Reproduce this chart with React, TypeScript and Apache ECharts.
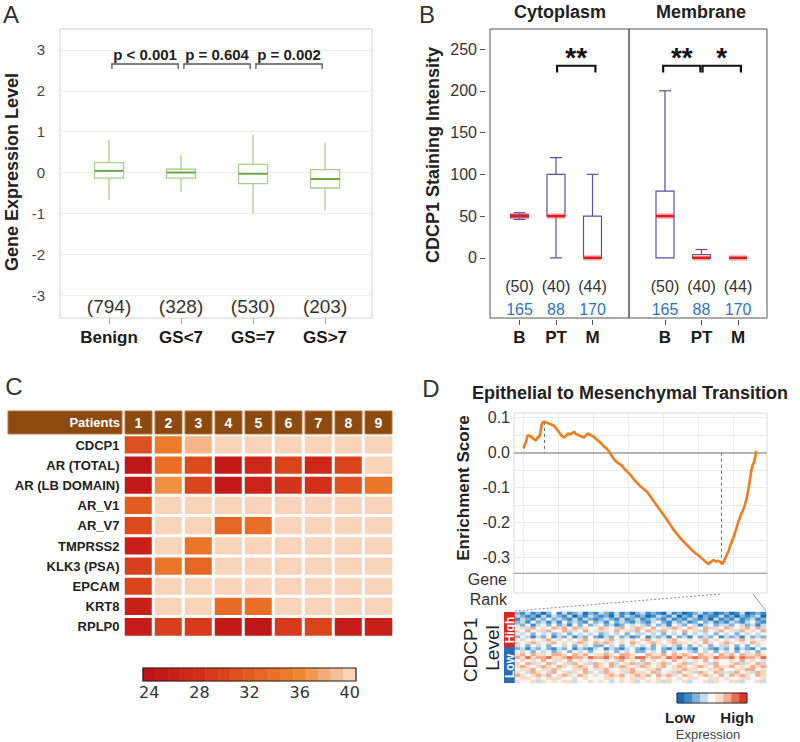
import React, { useEffect, useRef } from 'react';
import * as echarts from 'echarts';

const FONT = '"Liberation Sans", Arial, Helvetica, sans-serif';

// ---------------- Panel A ----------------
const aCategories = ['Benign', 'GS<7', 'GS=7', 'GS>7'];
const aCounts = ['(794)', '(328)', '(530)', '(203)'];
const aLow = [-0.67, -0.47, -1.0, -0.93];
const aQ1 = [-0.14, -0.14, -0.27, -0.38];
const aMedian = [0.04, 0.0, -0.03, -0.16];
const aQ3 = [0.24, 0.08, 0.2, 0.07];
const aHigh = [0.8, 0.42, 0.92, 0.73];
const aYTicks = [-3, -2, -1, 0, 1, 2, 3];
const aXTicks = [0, 1, 2, 3];
const aPLabels = ['p < 0.001', 'p = 0.604', 'p = 0.002'];
const aPFrom = [0, 1, 2];
const aPTo = [1, 2, 3];

// ---------------- Panel B ----------------
const bCategories = ['B', 'PT', 'M'];
const bXTicks = [0, 1, 2];
const bCounts = ['(50)', '(40)', '(44)'];
const bTotals = ['165', '88', '170'];
const bYTicks = [0, 50, 100, 150, 200, 250];
// [min, q1, median, q3, max]
const bCytoplasm = [
  [46, 48, 50, 52, 54],
  [0, 50, 50, 100, 120],
  [0, 0, 0, 50, 100],
];
const bMembrane = [
  [0, 0, 50, 80, 200],
  [0, 0, 0, 4, 10],
  [0, 0, 0, 0, 0],
];
const bCytoSigFrom = [1.03];
const bCytoSigTo = [2.08];
const bCytoSigLabel = ['**'];
const bMemSigFrom = [-0.05, 1.03];
const bMemSigTo = [0.97, 2.08];
const bMemSigLabel = ['**', '*'];

// ---------------- Panel C ----------------
const cPatients = ['1', '2', '3', '4', '5', '6', '7', '8', '9'];
const cGenes = ['CDCP1', 'AR (TOTAL)', 'AR (LB DOMAIN)', 'AR_V1', 'AR_V7', 'TMPRSS2', 'KLK3 (PSA)', 'EPCAM', 'KRT8', 'RPLP0'];
const cCt = [
  [31, 35, 38.5, 40, 40, 40, 40, 40, 40],
  [24.5, 34, 30.5, 25, 27, 30, 27, 30, 40],
  [25, 36.5, 30, 25, 26.5, 28.5, 28, 31, 34.5],
  [32, 40, 40, 40, 40, 40, 40, 40, 40],
  [30.5, 40, 40, 33, 34, 40, 40, 40, 40],
  [26, 40, 34.5, 40, 40, 40, 40, 40, 40],
  [29.5, 34.5, 33, 40, 40, 40, 40, 40, 40],
  [30, 40, 40, 40, 40, 40, 40, 40, 40],
  [26, 40, 40, 33.5, 34, 40, 40, 40, 40],
  [25.5, 29.5, 29, 25, 24.5, 29, 30, 25.5, 26],
];
const cScaleTicks = [24, 28, 32, 36, 40];
const cScaleSteps = [24, 25, 26, 27, 28, 29, 30, 31, 32, 33, 34, 35, 36, 37, 38, 39, 40];
const cColors = ['#be1318', '#c91f19', '#d22e1a', '#da441d', '#e15c21', '#e96f26', '#ef8630', '#f2ac78', '#f8d4ba'];

// ---------------- Panel D ----------------
const esRank = [0, 107, 179, 274, 369, 512, 655, 798, 893, 988, 1083, 1179, 1274, 1369, 1512, 1655, 1893, 2131, 2321, 2512, 2702, 2893, 3036, 3179, 3321, 3464, 3607, 3750, 3940, 4131, 4321, 4464, 4607, 4798, 4988, 5226, 5464, 5702, 5940, 6131, 6321, 6536, 6774, 7012, 7250, 7607, 7964, 8321, 8798, 9274, 9750, 10226, 10702, 11179, 11655, 12131, 12607, 12964, 13202, 13369, 13560, 13750, 13917, 14083, 14202, 14321, 14512, 14655, 14798, 14988, 15179, 15369, 15560, 15750, 15940, 16083, 16179, 16274, 16369, 16464, 16560, 16607];
const esScore = [0.012, 0.025, 0.03, 0.048, 0.05, 0.046, 0.042, 0.037, 0.035, 0.042, 0.046, 0.05, 0.075, 0.087, 0.088, 0.086, 0.082, 0.078, 0.07, 0.06, 0.05, 0.043, 0.048, 0.055, 0.052, 0.056, 0.06, 0.053, 0.05, 0.047, 0.043, 0.05, 0.055, 0.05, 0.046, 0.038, 0.03, 0.02, 0.012, 0.002, -0.01, -0.022, -0.03, -0.037, -0.048, -0.062, -0.08, -0.095, -0.111, -0.137, -0.164, -0.19, -0.219, -0.243, -0.263, -0.282, -0.297, -0.31, -0.318, -0.312, -0.307, -0.311, -0.309, -0.313, -0.318, -0.31, -0.292, -0.28, -0.262, -0.243, -0.22, -0.194, -0.174, -0.158, -0.13, -0.1, -0.075, -0.05, -0.035, -0.028, -0.01, 0.005];
const dXGrid = [0, 2500, 5000, 7500, 10000, 12500, 15000];
const dYGrid = [-0.3, -0.25, -0.2, -0.15, -0.1, -0.05, 0, 0.05, 0.1];
const dYLabels = [-0.3, -0.2, -0.1, 0, 0.1];
const dPeakRank = 1488;
const dPeakScore = 0.088;
const dTroughRank = 14155;
const dTroughScore = -0.314;
// expression levels 0 (low, blue) .. 8 (high, red); rows 0-11 CDCP1 high, 12-23 CDCP1 low
const dRows = [
  '21312024 13123021 32131202 31210312 01231201 20130121',
  '32120313 21302132 12031321 20132130 21302113 12021230',
  '13213242 32131321 23213123 12321312 13212031 21312312',
  '23142313 14232142 31423213 21342132 31242312 13213421',
  '32413424 23142423 42312434 32423143 24313423 32432313',
  '45364546 56463544 65436456 54645365 46546354 65456463',
  '54645364 46354645 35464536 46536454 64536456 45364546',
  '43424342 34243434 23434243 34342434 24343424 34243434',
  '24313241 32413242 13242312 41323142 31423241 32314232',
  '45454564 54545645 45645454 56454564 45456454 54564545',
  '54565456 45456546 56545465 45654565 54546545 65454654',
  '34243424 43424342 24342434 34243432 42434243 34242434',
  '23132421 32413213 41321342 13242131 32143213 24132142',
  '43424342 34243424 43424342 24342434 43243424 34243424',
  '56465546 65465645 56546654 46556465 65465546 56465565',
  '65756675 56766576 67567657 75665767 56766576 67576657',
  '45454645 54645454 45456454 64545464 54546454 45464545',
  '54635463 45364536 54634563 36456345 63545364 45635463',
  '56545654 65456546 54656545 65456456 54565465 56454656',
  '45564556 54455645 56445564 45564455 65544556 44556645',
  '54365436 45354634 36545365 54634536 45365463 53645365',
  '65456564 56546545 45656456 56465654 65456546 46565465',
  '45545455 54454544 45545455 54454545 45544554 54455445',
  '54453545 45534454 54345453 45453544 53445354 45534453',
];
const dScaleSteps = [0, 1, 2, 3, 4, 5, 6, 7, 8];
const dColors = ['#1c6cb1', '#3d8ac6', '#7fb3dc', '#c5dcef', '#f7f7f7', '#fadbc6', '#f5ad8e', '#ea6d51', '#d6352a'];

// ---------------- helpers ----------------
function txtStyle(text: string, font: string, fill: string, align: string, va: string) {
  return { text, font, fill, align, verticalAlign: va, textAlign: align, textVerticalAlign: va };
}
function gtext(text: string, x: number, y: number, font: string, opts: any = {}) {
  return {
    type: 'text', x, y, rotation: opts.rotation || 0, silent: true, z: 20,
    style: txtStyle(text, font, opts.fill || '#222', opts.align || 'center', opts.va || 'middle'),
  };
}
const hiddenAxis = (gridIndex: number, extra: any = {}) => ({ gridIndex, show: false, axisLine: { onZero: false }, ...extra });
const noLine = { show: false, onZero: false };

function buildOption() {
  // ---- A renderers
  const renderBoxA = (params: any, api: any) => {
    const x = api.value(0);
    const cx = api.coord([x, 0])[0];
    const y = (v: number) => api.coord([x, v])[1];
    const lo = api.value(1), q1 = api.value(2), md = api.value(3), q3 = api.value(4), hi = api.value(5);
    const hw = 14.5;
    const stroke = '#a9cf8a';
    return {
      type: 'group',
      children: [
        { type: 'line', shape: { x1: cx, y1: y(hi), x2: cx, y2: y(q3) }, style: { stroke, lineWidth: 1.3 } },
        { type: 'line', shape: { x1: cx, y1: y(q1), x2: cx, y2: y(lo) }, style: { stroke, lineWidth: 1.3 } },
        { type: 'rect', shape: { x: cx - hw, y: y(q3), width: hw * 2, height: y(q1) - y(q3) }, style: { fill: '#fff', stroke, lineWidth: 1.3 } },
        { type: 'line', shape: { x1: cx - hw, y1: y(md), x2: cx + hw, y2: y(md) }, style: { stroke: '#6aa444', lineWidth: 2 } },
      ],
    };
  };
  const renderBracketA = (params: any, api: any) => {
    const f = api.value(0), t = api.value(1);
    const a = api.coord([f + 0.04, 2.535]);
    const b = api.coord([f + 0.04, 2.657]);
    const c = api.coord([t - 0.04, 2.657]);
    const d = api.coord([t - 0.04, 2.535]);
    const m = api.coord([(f + t) / 2, 2.88]);
    return {
      type: 'group',
      children: [
        { type: 'polyline', shape: { points: [a, b, c, d] }, style: { stroke: '#555', lineWidth: 1.3, fill: 'none' } },
        { type: 'text', x: m[0], y: m[1], style: txtStyle(aPLabels[params.dataIndex], `bold 15px ${FONT}`, '#222', 'center', 'middle') },
      ],
    };
  };
  const renderCountA = (params: any, api: any) => {
    const p = api.coord([api.value(0), api.value(1)]);
    return { type: 'text', x: p[0], y: p[1], style: txtStyle(aCounts[params.dataIndex], `19px ${FONT}`, '#333', 'center', 'middle') };
  };

  // ---- B renderers
  const renderBoxB = (params: any, api: any) => {
    const x = api.value(0);
    const cx = api.coord([x, 0])[0];
    const y = (v: number) => api.coord([x, v])[1];
    const lo = api.value(1), q1 = api.value(2), md = api.value(3), q3 = api.value(4), hi = api.value(5);
    const hw = 9, cw = 6;
    const stroke = '#5b4ea3';
    const ch: any[] = [];
    if (hi > q3) {
      ch.push({ type: 'line', shape: { x1: cx, y1: y(hi), x2: cx, y2: y(q3) }, style: { stroke, lineWidth: 1.2 } });
      ch.push({ type: 'line', shape: { x1: cx - cw, y1: y(hi), x2: cx + cw, y2: y(hi) }, style: { stroke, lineWidth: 1.2 } });
    }
    if (lo < q1) {
      ch.push({ type: 'line', shape: { x1: cx, y1: y(q1), x2: cx, y2: y(lo) }, style: { stroke, lineWidth: 1.2 } });
      ch.push({ type: 'line', shape: { x1: cx - cw, y1: y(lo), x2: cx + cw, y2: y(lo) }, style: { stroke, lineWidth: 1.2 } });
    }
    ch.push({ type: 'rect', shape: { x: cx - hw, y: y(q3), width: hw * 2, height: y(q1) - y(q3) }, style: { fill: 'none', stroke, lineWidth: 1.2 } });
    ch.push({ type: 'line', shape: { x1: cx - hw, y1: y(md), x2: cx + hw, y2: y(md) }, style: { stroke: 'rgba(240,120,120,0.45)', lineWidth: 6 } });
    ch.push({ type: 'line', shape: { x1: cx - hw, y1: y(md), x2: cx + hw, y2: y(md) }, style: { stroke: '#e41a1c', lineWidth: 2.6 } });
    return { type: 'group', children: ch };
  };
  const makeSigRenderer = (labels: string[]) => (params: any, api: any) => {
    const f = api.value(0), t = api.value(1);
    const a = api.coord([f, 222]);
    const b = api.coord([f, 230]);
    const c = api.coord([t, 230]);
    const d = api.coord([t, 222]);
    const m = api.coord([(f + t) / 2, 230]);
    return {
      type: 'group',
      children: [
        { type: 'polyline', shape: { points: [a, b, c, d] }, style: { stroke: '#111', lineWidth: 2.2, fill: 'none' } },
        { type: 'text', x: m[0], y: m[1] - 8, style: txtStyle(labels[params.dataIndex], `bold 28px ${FONT}`, '#111', 'center', 'middle') },
      ],
    };
  };
  const renderCountB = (params: any, api: any) => {
    const i = api.value(0);
    const p1 = api.coord([i, -34.7]);
    const p2 = api.coord([i, -62.2]);
    return {
      type: 'group',
      children: [
        { type: 'text', x: p1[0], y: p1[1], style: txtStyle(bCounts[params.dataIndex], `16px ${FONT}`, '#333', 'center', 'middle') },
        { type: 'text', x: p2[0], y: p2[1], style: txtStyle(bTotals[params.dataIndex], `16px ${FONT}`, '#2f73c4', 'center', 'middle') },
      ],
    };
  };

  // ---- C renderers
  const renderHeader = (params: any, api: any) => {
    const i = api.value(0);
    const top = api.coord([i, 1]);
    const bot = api.coord([i, 0]);
    const w = api.size([1, 0])[0];
    return {
      type: 'group',
      children: [
        { type: 'rect', shape: { x: top[0] - w / 2 + 1.5, y: top[1], width: w - 3, height: bot[1] - top[1] }, style: { fill: '#8c4a10', stroke: '#b7763f', lineWidth: 1 } },
        { type: 'text', x: top[0], y: (top[1] + bot[1]) / 2, style: txtStyle(cPatients[params.dataIndex], `bold 14px ${FONT}`, '#fff', 'center', 'middle') },
      ],
    };
  };
  const renderStep = (params: any, api: any) => {
    const v = api.value(0);
    const p0 = api.coord([v - 0.5, 1]);
    const p1 = api.coord([v + 0.5, 0]);
    const color = api.visual('color');
    return { type: 'rect', shape: { x: p0[0], y: p0[1], width: p1[0] - p0[0], height: p1[1] - p0[1] }, style: { fill: color, stroke: color, lineWidth: 0.5 } };
  };

  const cCells: any[] = [];
  cCt.forEach((row, r) => row.forEach((v, c) => cCells.push([c, r, v])));
  const dCells: any[] = [];
  dRows.forEach((row, r) => row.replace(/ /g, '').split('').forEach((ch, c) => dCells.push([c, r, Number(ch)])));
  const dColNames = dRows[0].replace(/ /g, '').split('').map((_, i) => String(i));
  const dRowNames = dRows.map((_, i) => String(i));

  const grids = [
    { left: 60, top: 29, width: 312, height: 289, show: true, borderColor: '#d0d0d0', borderWidth: 1 }, // 0 A
    { left: 490, top: 29, width: 139, height: 289, show: true, borderColor: '#555', borderWidth: 1 }, // 1 B cyto
    { left: 629, top: 29, width: 138, height: 289, show: true, borderColor: '#555', borderWidth: 1 }, // 2 B mem
    { left: 123.5, top: 435, width: 270, height: 202 }, // 3 C heat
    { left: 123.5, top: 411, width: 270, height: 23 }, // 4 C header
    { left: 143, top: 668, width: 213, height: 13 }, // 5 C colorbar
    { left: 514, top: 413, width: 253, height: 160, show: true, borderColor: '#d9d9d9', borderWidth: 1 }, // 6 D ES
    { left: 514, top: 573, width: 253, height: 20, show: true, borderColor: '#d9d9d9', borderWidth: 1 }, // 7 D gene rank
    { left: 515, top: 612, width: 251, height: 71 }, // 8 D heat
    { left: 677, top: 693, width: 70, height: 10 }, // 9 D colorbar
  ].map((g) => ({ containLabel: false, outerBoundsMode: 'none', ...g }));

  const xAxis = [
    {
      gridIndex: 0, type: 'value', min: -0.681, max: 3.652,
      axisLine: noLine,
      axisTick: { show: true, customValues: aXTicks, length: 6, lineStyle: { color: '#aaa' } },
      axisLabel: { customValues: aXTicks, formatter: (v: number) => aCategories[v], fontSize: 17, fontWeight: 'bold', color: '#1a1a1a', margin: 11, fontFamily: FONT },
      splitLine: { show: false },
    },
    {
      gridIndex: 1, type: 'value', min: -0.808, max: 3.0, offset: 2,
      axisLine: noLine,
      axisTick: { show: true, customValues: bXTicks, length: 5, lineStyle: { color: '#555' } },
      axisLabel: { customValues: bXTicks, formatter: (v: number) => bCategories[v], fontSize: 17, fontWeight: 'bold', color: '#1a1a1a', margin: 9, fontFamily: FONT },
      splitLine: { show: false },
    },
    {
      gridIndex: 2, type: 'value', min: -0.986, max: 2.795, offset: 2,
      axisLine: noLine,
      axisTick: { show: true, customValues: bXTicks, length: 5, lineStyle: { color: '#555' } },
      axisLabel: { customValues: bXTicks, formatter: (v: number) => bCategories[v], fontSize: 17, fontWeight: 'bold', color: '#1a1a1a', margin: 9, fontFamily: FONT },
      splitLine: { show: false },
    },
    hiddenAxis(3, { type: 'category', data: cPatients }),
    hiddenAxis(4, { type: 'category', data: cPatients }),
    {
      gridIndex: 5, type: 'value', min: 23.5, max: 40.5,
      axisLine: noLine, axisTick: { show: false },
      axisLabel: { customValues: cScaleTicks, fontSize: 16, color: '#333', margin: 3, fontFamily: '"DejaVu Sans", sans-serif' },
      splitLine: { show: false },
    },
    {
      gridIndex: 6, type: 'value', min: -679, max: 17392,
      axisLine: noLine, axisTick: { show: false, customValues: dXGrid }, axisLabel: { show: false },
      splitLine: { show: true, lineStyle: { color: '#ebebeb', width: 1 } },
    },
    {
      gridIndex: 7, type: 'value', min: -679, max: 17392, position: 'top',
      axisLine: { show: true, onZero: false, lineStyle: { color: '#a8a8a8', width: 1.2 } },
      axisTick: { show: false, customValues: dXGrid }, axisLabel: { show: false },
      splitLine: { show: true, lineStyle: { color: '#ebebeb', width: 1 } },
    },
    hiddenAxis(8, { type: 'category', data: dColNames }),
    hiddenAxis(9, { type: 'value', min: -0.5, max: 8.5 }),
  ];

  const yAxis = [
    {
      gridIndex: 0, type: 'value', min: -3.563, max: 3.514,
      axisLine: noLine, axisTick: { show: false, customValues: aYTicks },
      axisLabel: { customValues: aYTicks, fontSize: 15, color: '#444', margin: 15, fontFamily: FONT },
      splitLine: { show: true, lineStyle: { color: '#eeeeee' } },
    },
    {
      gridIndex: 1, type: 'value', min: -72, max: 274, offset: 5,
      axisLine: noLine,
      axisTick: { show: true, customValues: bYTicks, length: 5, lineStyle: { color: '#555' } },
      axisLabel: { customValues: bYTicks, fontSize: 16, color: '#333', margin: 8, fontFamily: FONT },
      splitLine: { show: false },
    },
    hiddenAxis(2, { type: 'value', min: -72, max: 274 }),
    {
      gridIndex: 3, type: 'category', data: cGenes, inverse: true,
      axisLine: noLine, axisTick: { show: false },
      axisLabel: { interval: 0, fontSize: 13, fontWeight: 'bold', color: '#222', margin: 4, fontFamily: FONT },
      splitLine: { show: false },
    },
    hiddenAxis(4, { type: 'value', min: 0, max: 1 }),
    hiddenAxis(5, { type: 'value', min: 0, max: 1 }),
    {
      gridIndex: 6, type: 'value', min: -0.3437, max: 0.1134,
      axisLine: noLine, axisTick: { show: false, customValues: dYGrid },
      axisLabel: { customValues: dYLabels, formatter: (v: number) => v.toFixed(1), fontSize: 16, color: '#333', margin: 4, fontFamily: FONT },
      splitLine: { show: true, lineStyle: { color: '#ebebeb', width: 1 } },
    },
    hiddenAxis(7, { type: 'value', min: 0, max: 1 }),
    hiddenAxis(8, { type: 'category', data: dRowNames, inverse: true }),
    hiddenAxis(9, { type: 'value', min: 0, max: 1 }),
  ];

  const series: any[] = [
    { type: 'custom', xAxisIndex: 0, yAxisIndex: 0, renderItem: renderBoxA, data: aCategories.map((_, i) => [i, aLow[i], aQ1[i], aMedian[i], aQ3[i], aHigh[i]]), encode: { x: 0, y: [1, 2, 3, 4, 5] }, silent: true },
    { type: 'custom', xAxisIndex: 0, yAxisIndex: 0, renderItem: renderBracketA, data: aPLabels.map((_, i) => [aPFrom[i], aPTo[i], 2.657]), encode: { x: [0, 1], y: 2 }, silent: true },
    { type: 'custom', xAxisIndex: 0, yAxisIndex: 0, renderItem: renderCountA, data: aCounts.map((_, i) => [i, -3.27]), encode: { x: 0, y: 1 }, silent: true },
    { type: 'custom', xAxisIndex: 1, yAxisIndex: 1, renderItem: renderBoxB, data: bCytoplasm.map((b, i) => [i, ...b]), encode: { x: 0, y: [1, 2, 3, 4, 5] }, silent: true },
    { type: 'custom', xAxisIndex: 2, yAxisIndex: 2, renderItem: renderBoxB, data: bMembrane.map((b, i) => [i, ...b]), encode: { x: 0, y: [1, 2, 3, 4, 5] }, silent: true },
    { type: 'custom', xAxisIndex: 1, yAxisIndex: 1, renderItem: makeSigRenderer(bCytoSigLabel), data: bCytoSigFrom.map((f, i) => [f, bCytoSigTo[i], 230]), encode: { x: [0, 1], y: 2 }, silent: true },
    { type: 'custom', xAxisIndex: 2, yAxisIndex: 2, renderItem: makeSigRenderer(bMemSigLabel), data: bMemSigFrom.map((f, i) => [f, bMemSigTo[i], 230]), encode: { x: [0, 1], y: 2 }, silent: true },
    { type: 'custom', xAxisIndex: 1, yAxisIndex: 1, renderItem: renderCountB, data: bCounts.map((_, i) => [i, -34.7]), encode: { x: 0, y: 1 }, silent: true },
    { type: 'custom', xAxisIndex: 2, yAxisIndex: 2, renderItem: renderCountB, data: bCounts.map((_, i) => [i, -34.7]), encode: { x: 0, y: 1 }, silent: true },
    { type: 'heatmap', xAxisIndex: 3, yAxisIndex: 3, data: cCells, itemStyle: { borderColor: '#fff', borderWidth: 3 }, emphasis: { disabled: true }, silent: true },
    { type: 'custom', xAxisIndex: 4, yAxisIndex: 4, renderItem: renderHeader, data: cPatients.map((_, i) => [i, 0]), encode: { x: 0, y: 1 }, silent: true },
    { type: 'custom', xAxisIndex: 5, yAxisIndex: 5, renderItem: renderStep, data: cScaleSteps.map((v) => [v, 0, v]), encode: { x: 0, y: 1 }, silent: true },
    {
      type: 'line', xAxisIndex: 6, yAxisIndex: 6, data: esRank.map((r, i) => [r, esScore[i]]),
      symbol: 'none', showSymbol: false, lineStyle: { color: '#f27b1c', width: 2.6 }, z: 5, silent: true,
      markLine: {
        silent: true, symbol: ['none', 'none'], label: { show: false }, z: 3,
        data: [
          { yAxis: 0, lineStyle: { color: '#a0a0a0', width: 1.5, type: 'solid' } },
          [
            { coord: [dPeakRank, dPeakScore], lineStyle: { color: '#5b7474', width: 1, type: [3, 3] } },
            { coord: [dPeakRank, 0], lineStyle: { color: '#5b7474', width: 1, type: [3, 3] } },
          ],
          [
            { coord: [dTroughRank, 0], lineStyle: { color: '#5b7474', width: 1, type: [3, 3] } },
            { coord: [dTroughRank, dTroughScore], lineStyle: { color: '#5b7474', width: 1, type: [3, 3] } },
          ],
        ],
      },
    },
    { type: 'heatmap', xAxisIndex: 8, yAxisIndex: 8, data: dCells, emphasis: { disabled: true }, silent: true },
    { type: 'custom', xAxisIndex: 9, yAxisIndex: 9, renderItem: renderStep, data: dScaleSteps.map((v) => [v, 0, v]), encode: { x: 0, y: 1 }, silent: true },
  ];

  const graphic: any[] = [
    gtext('A', 11, 14, `24px ${FONT}`, { fill: '#333' }),
    gtext('B', 427, 14, `24px ${FONT}`, { fill: '#333' }),
    gtext('C', 14, 386, `24px ${FONT}`, { fill: '#333' }),
    gtext('D', 431, 388, `24px ${FONT}`, { fill: '#333' }),
    gtext('Gene Expression Level', 12, 172, `bold 18px ${FONT}`, { rotation: Math.PI / 2 }),
    gtext('CDCP1 Staining Intensity', 433, 155, `bold 18px ${FONT}`, { rotation: Math.PI / 2 }),
    gtext('Cytoplasm', 560, 12, `bold 18px ${FONT}`),
    gtext('Membrane', 701, 12, `bold 18px ${FONT}`),
    { type: 'rect', shape: { x: 8, y: 411, width: 114, height: 23 }, style: { fill: '#8c4a10', stroke: '#b7763f', lineWidth: 1 }, silent: true, z: 10 },
    gtext('Patients', 120, 422.5, `bold 13px ${FONT}`, { fill: '#fff', align: 'right' }),
    { type: 'rect', shape: { x: 143, y: 668, width: 213, height: 13 }, style: { fill: 'none', stroke: '#222', lineWidth: 1.2 }, silent: true, z: 10 },
    gtext('Epithelial to Mesenchymal Transition', 472, 393, `bold 18px ${FONT}`, { align: 'left' }),
    gtext('Enrichment Score', 463, 488, `bold 17px ${FONT}`, { rotation: Math.PI / 2 }),
    gtext('Gene', 507, 579, `16px ${FONT}`, { align: 'right', fill: '#333' }),
    gtext('Rank', 507, 599, `16px ${FONT}`, { align: 'right', fill: '#333' }),
    { type: 'line', shape: { x1: 720, y1: 594, x2: 515, y2: 611 }, style: { stroke: '#888', lineWidth: 1, lineDash: [2, 2] }, silent: true },
    { type: 'line', shape: { x1: 753, y1: 594, x2: 766, y2: 611 }, style: { stroke: '#999', lineWidth: 1 }, silent: true },
    { type: 'rect', shape: { x: 504, y: 612, width: 11, height: 35 }, style: { fill: '#e2231a' }, silent: true },
    { type: 'rect', shape: { x: 504, y: 647, width: 11, height: 36 }, style: { fill: '#2a6db3' }, silent: true },
    gtext('High', 510, 630, `bold 12px ${FONT}`, { fill: '#fff', rotation: Math.PI / 2 }),
    gtext('Low', 510, 666, `bold 12px ${FONT}`, { fill: '#fff', rotation: Math.PI / 2 }),
    gtext('CDCP1', 470, 650, `19px ${FONT}`, { rotation: Math.PI / 2 }),
    gtext('Level', 492, 648, `19px ${FONT}`, { rotation: Math.PI / 2 }),
    { type: 'rect', shape: { x: 677, y: 693, width: 70, height: 10 }, style: { fill: 'none', stroke: '#333', lineWidth: 1 }, silent: true, z: 10 },
    gtext('Low', 680, 717, `bold 15px ${FONT}`),
    gtext('High', 737, 717, `bold 15px ${FONT}`),
    gtext('Expression', 708, 734, `13px ${FONT}`, { fill: '#444' }),
  ];

  return {
    animation: false,
    backgroundColor: '#fff',
    textStyle: { fontFamily: FONT },
    grid: grids,
    xAxis,
    yAxis,
    visualMap: [
      { type: 'continuous', show: false, min: 24, max: 40, dimension: 2, seriesIndex: [9, 11], inRange: { color: cColors } },
      { type: 'continuous', show: false, min: 0, max: 8, dimension: 2, seriesIndex: [13, 14], inRange: { color: dColors } },
    ],
    series,
    graphic,
  };
}

export default function App() {
  const ref = useRef<HTMLDivElement>(null);
  useEffect(() => {
    if (!ref.current) return;
    const chart = echarts.init(ref.current, undefined, { renderer: 'svg' });
    chart.setOption(buildOption() as any);
    return () => chart.dispose();
  }, []);
  return <div ref={ref} style={{ position: 'absolute', left: 0, top: 0, width: 800, height: 742, background: '#fff' }} />;
}
